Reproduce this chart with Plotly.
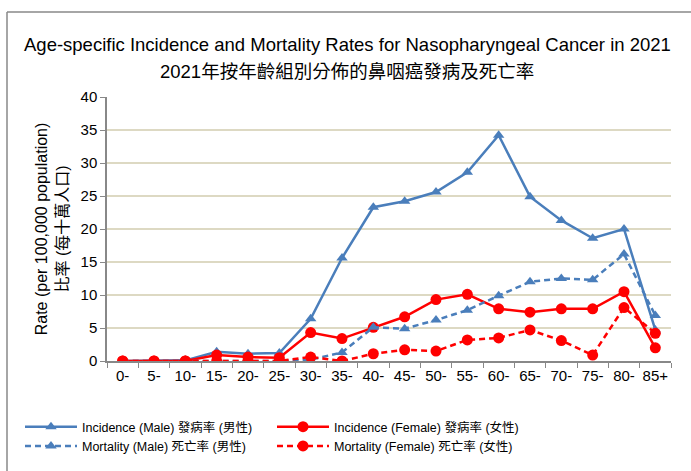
import plotly.graph_objects as go

age_groups = ["0-", "5-", "10-", "15-", "20-", "25-", "30-", "35-", "40-", "45-",
              "50-", "55-", "60-", "65-", "70-", "75-", "80-", "85+"]
incidence_male = [0.0, 0.0, 0.1, 1.4, 1.1, 1.2, 6.4, 15.6, 23.3, 24.2,
                  25.6, 28.6, 34.2, 24.9, 21.3, 18.6, 20.0, 4.7]
incidence_female = [0.0, 0.0, 0.0, 0.9, 0.6, 0.5, 4.3, 3.4, 5.1, 6.7,
                    9.3, 10.1, 7.9, 7.4, 7.9, 7.9, 10.5, 2.0]
mortality_male = [0.0, 0.0, 0.0, 0.0, 0.0, 0.0, 0.2, 1.3, 5.1, 4.9,
                  6.2, 7.7, 9.9, 12.0, 12.5, 12.3, 16.2, 6.9]
mortality_female = [0.0, 0.0, 0.0, 0.0, 0.0, 0.0, 0.6, 0.0, 1.1, 1.7,
                    1.5, 3.2, 3.5, 4.7, 3.1, 0.9, 8.1, 4.2]

title_en = "Age-specific Incidence and Mortality Rates for Nasopharyngeal Cancer in 2021"
title_zh = "2021年按年齡組別分佈的鼻咽癌發病及死亡率"
y_title = "Rate (per 100,000 population)<br>比率 (每十萬人口)"

BLUE = "#4a7ebb"
RED = "#ff0000"
FONT = "Liberation Sans, Arial, Noto Sans CJK TC, sans-serif"

fig = go.Figure()
fig.add_trace(go.Scatter(x=age_groups, y=incidence_male, name="Incidence (Male) 發病率 (男性)",
                         mode="lines+markers", line=dict(color=BLUE, width=2.5),
                         marker=dict(symbol="triangle-up", size=10, color=BLUE)))
fig.add_trace(go.Scatter(x=age_groups, y=incidence_female, name="Incidence (Female) 發病率 (女性)",
                         mode="lines+markers", line=dict(color=RED, width=2.5),
                         marker=dict(symbol="circle", size=11, color=RED)))
fig.add_trace(go.Scatter(x=age_groups, y=mortality_male, name="Mortality (Male) 死亡率 (男性)",
                         mode="lines+markers", line=dict(color=BLUE, width=2.5, dash="6px,4px"),
                         marker=dict(symbol="triangle-up", size=10, color=BLUE)))
fig.add_trace(go.Scatter(x=age_groups, y=mortality_female, name="Mortality (Female) 死亡率 (女性)",
                         mode="lines+markers", line=dict(color=RED, width=2.5, dash="6px,4px"),
                         marker=dict(symbol="circle", size=11, color=RED)))

L, R, T, B = 107, 20, 97, 110
W, H = 691, 471
pw, ph = W - L - R, H - T - B


def px2x(px):
    return (px - L) / pw


def py2y(py):
    return (H - B - py) / ph


fig.update_layout(
    width=W, height=H,
    margin=dict(l=L, r=R, t=T, b=B, autoexpand=False),
    paper_bgcolor="white", plot_bgcolor="white",
    font=dict(family=FONT, size=15, color="#000000"),
    showlegend=True,
    legend=dict(orientation="h", x=px2x(20), y=py2y(412), xanchor="left", yanchor="top",
                entrywidth=185, entrywidthmode="pixels", font=dict(size=12.5),
                tracegroupgap=0, itemwidth=52, bgcolor="rgba(0,0,0,0)"),
    xaxis=dict(type="category", showgrid=False, showline=True, linecolor="#888888", linewidth=1.5,
               ticks="outside", tickson="boundaries", ticklen=5, tickcolor="#888888",
               tickfont=dict(size=15), tickangle=0, range=[-0.5, 17.5]),
    yaxis=dict(range=[0, 40], dtick=5, showgrid=True, gridcolor="#ddd9c3", gridwidth=2,
               showline=True, linecolor="#888888", linewidth=1.5, ticks="outside", ticklen=5,
               tickcolor="#888888", tickfont=dict(size=15), zeroline=False,
               title=dict(text=y_title, font=dict(size=16), standoff=8)),
)

fig.add_annotation(text=title_en, xref="paper", yref="paper", x=px2x(347), y=py2y(45),
                   showarrow=False, font=dict(size=18.5), xanchor="center", yanchor="middle")
fig.add_annotation(text=title_zh, xref="paper", yref="paper", x=px2x(347), y=py2y(71),
                   showarrow=False, font=dict(size=18.5), xanchor="center", yanchor="middle")

# chart frame
fig.add_shape(type="line", xref="paper", yref="paper", x0=px2x(7), x1=px2x(695),
              y0=py2y(12), y1=py2y(12), line=dict(color="#888888", width=1.5))
fig.add_shape(type="line", xref="paper", yref="paper", x0=px2x(7), x1=px2x(7),
              y0=py2y(12), y1=py2y(475), line=dict(color="#888888", width=1.5))

fig.write_html("out.html", config={"displayModeBar": False},
               post_script="document.body.style.margin='0';")
